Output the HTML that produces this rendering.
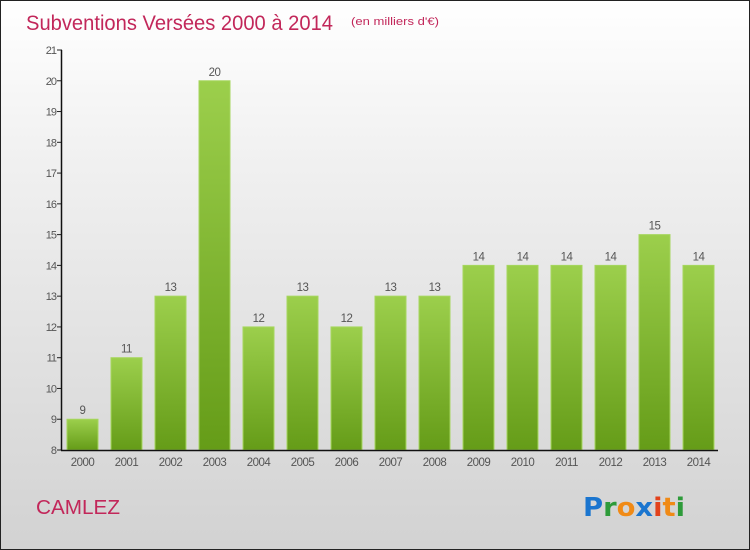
<!DOCTYPE html>
<html><head><meta charset="utf-8"><style>
html,body{margin:0;padding:0}
body{width:750px;height:550px;overflow:hidden;font-family:"Liberation Sans",sans-serif}
#wrap{position:absolute;left:0;top:0;width:748px;height:548px;border:1px solid #222;background:linear-gradient(#ffffff 0%,#f0f0f0 30%,#d2d2d2 100%)}
</style></head><body>
<div id="wrap">
<svg id="chart" width="750" height="550" style="position:absolute;left:-1px;top:-1px">
<defs><linearGradient id="bg" x1="0" y1="0" x2="0" y2="1"><stop offset="0" stop-color="#9ccf4c"/><stop offset="1" stop-color="#659c18"/></linearGradient></defs>
<text x="26" y="30" font-size="21" fill="#c2275a" textLength="307" lengthAdjust="spacingAndGlyphs">Subventions Versées 2000 à 2014</text>
<text x="351" y="25" font-size="11" fill="#c2275a" textLength="88" lengthAdjust="spacingAndGlyphs">(en milliers d'€)</text>
<text x="36" y="514" font-size="20" fill="#c2275a" textLength="84" lengthAdjust="spacingAndGlyphs">CAMLEZ</text>
<text x="583" y="516" font-size="26" font-weight="bold" font-family="'DejaVu Sans',sans-serif" textLength="102" lengthAdjust="spacingAndGlyphs"><tspan fill="#1a75cf">P</tspan><tspan fill="#2e9b3a">r</tspan><tspan fill="#f08a16">o</tspan><tspan fill="#1a75cf">x</tspan><tspan fill="#e2421c">i</tspan><tspan fill="#f08a16">t</tspan><tspan fill="#2e9b3a">i</tspan></text>
</svg>
</div>
<script>
const years=["2000","2001","2002","2003","2004","2005","2006","2007","2008","2009","2010","2011","2012","2013","2014"];
const values=[9,11,13,20,12,13,12,13,13,14,14,14,14,15,14];
const yTicks=[8,9,10,11,12,13,14,15,16,17,18,19,20,21];
const NS="http://www.w3.org/2000/svg";
const svg=document.getElementById('chart');
const y0=450,yTop=50,vMin=8,vMax=21;
function yPos(v){return y0-(v-vMin)*(y0-yTop)/(vMax-vMin);}
function xPos(i){return 82+i*44;}
function mk(t,a){const e=document.createElementNS(NS,t);for(const k in a)e.setAttribute(k,a[k]);svg.appendChild(e);return e;}
yTicks.forEach(v=>{
 const t=mk('line',{x1:57,x2:62,y1:yPos(v),y2:yPos(v),stroke:'#222'});
 
 
 const l=mk('text',{x:56,y:yPos(v)+4,'font-size':11,fill:'#555','text-anchor':'end','letter-spacing':'-1'});
 l.textContent=v;
 
 
});
values.forEach((v,i)=>{
 const r=mk('rect',{x:xPos(i)-15,y:yPos(v),width:31,height:y0-yPos(v),fill:'url(#bg)',stroke:'#a6d65e','stroke-width':1});
 
 
 const t=mk('text',{x:xPos(i)+0.5,y:yPos(v)-5,'font-size':11.5,fill:'#555','text-anchor':'middle','letter-spacing':'-0.5'});
 t.textContent=v;
 
 
 const xl=mk('text',{x:xPos(i)+0.5,y:466,'font-size':11.5,fill:'#555','text-anchor':'middle','letter-spacing':'-0.5'});
 xl.textContent=years[i];
 
 
});
const ya=mk('line',{x1:61.5,x2:61.5,y1:yTop,y2:y0+0.5,stroke:'#111','stroke-width':1.5});


const xa=mk('line',{x1:61,x2:718,y1:y0+0.5,y2:y0+0.5,stroke:'#111','stroke-width':1.5});


</script>
</body></html>
